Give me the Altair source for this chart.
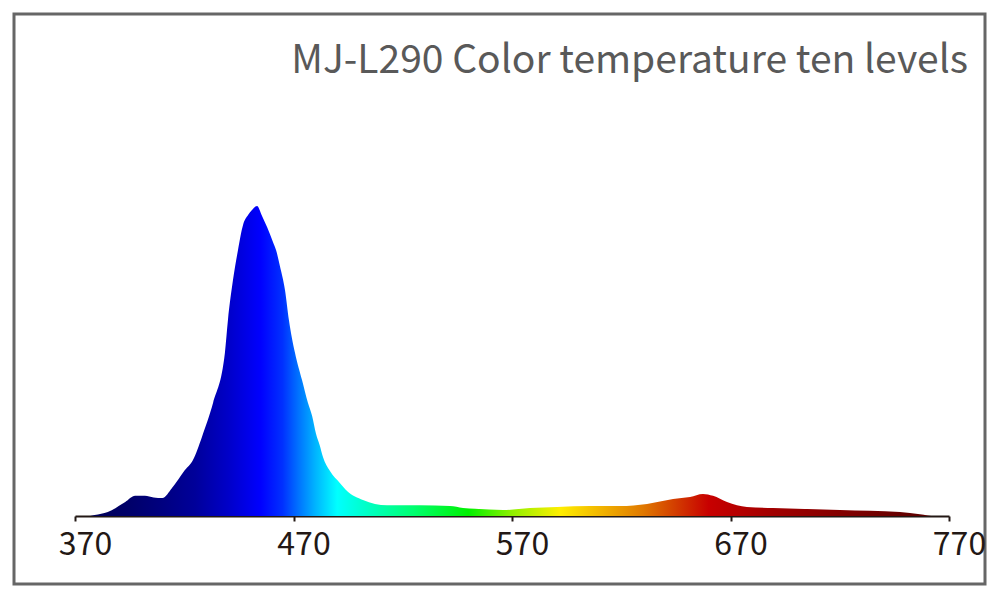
import altair as alt
import pandas as pd

# Spectrum (wavelength nm, relative intensity %)
wavelength = [370, 377, 379, 385, 393, 397.5, 402, 406, 410, 414.4, 420.3, 424, 428.1, 433.2,
              438.6, 440, 442.3, 444.6, 446.9, 449.2, 451, 453.3, 455.6, 457.9, 460.6, 462,
              463.8, 466.1, 467.9, 470.7, 473.9, 476.6, 478.5, 480.3, 482.1, 483.5, 486.7,
              491.3, 494.5, 501.8, 512.8, 527.9, 541.6, 547.6, 553.1, 565.9, 578.2, 590.6,
              605.7, 619.4, 631.8, 643.7, 651.5, 657.4, 662, 668.4, 677.5, 689.5, 720.1,
              747.6, 756.7, 763.6, 770]
intensity = [0, 0, 0.3, 1.3, 4.5, 6.5, 6.5, 6.0, 5.8, 9.0, 14.8, 18.1, 25.5, 36.5,
             52.6, 63.2, 76.1, 85.8, 93.9, 97.1, 98.7, 100, 96.8, 93.2, 88.4, 85.8,
             80.6, 72.9, 63.2, 52.6, 43.9, 36.5, 32.3, 26.5, 22.6, 19.0, 14.5,
             10.6, 8.1, 5.2, 3.5, 3.5, 3.2, 2.6, 2.3, 1.9, 2.6, 2.9,
             3.2, 3.2, 3.9, 5.5, 6.1, 7.1, 6.5, 4.5, 2.9, 2.6, 1.9,
             1.3, 0.6, 0, 0]

# Colour stops of the fill (wavelength nm, colour)
stop_nm = [370, 395, 410, 425, 440, 455, 465, 472, 480, 490, 505, 525, 550, 570, 592,
           612, 630, 648, 660, 690, 730, 770]
stop_color = ["#000050", "#00006a", "#000080", "#00009a", "#0000c8", "#0000ff", "#0030ff",
              "#0070ff", "#00b4ff", "#00ffff", "#00ffc0", "#00ff70", "#00f000", "#90f000",
              "#ffee00", "#f0b000", "#e07800", "#d03000", "#c80000", "#a00000", "#7a0000",
              "#500000"]

tick_values = [370, 470, 570, 670, 770]
title_text = "MJ-L290 Color temperature ten levels"

X_MIN, X_MAX = 370, 770
FONT = "Noto Sans CJK SC"

df = pd.DataFrame({"nm": wavelength, "val": intensity})

stops = [alt.GradientStop(offset=(w - X_MIN) / (X_MAX - X_MIN), color=c)
         for w, c in zip(stop_nm, stop_color)]

area = alt.Chart(df).mark_area(
    interpolate="monotone",
    color=alt.Gradient(gradient="linear", stops=stops, x1=0, x2=1, y1=0, y2=0),
).encode(
    x=alt.X("nm:Q",
            scale=alt.Scale(domain=[X_MIN, X_MAX], range=[61, 935], nice=False, zero=False),
            axis=alt.Axis(values=tick_values, title=None, grid=False, offset=-68,
                          tickSize=5, tickWidth=2, domainWidth=2,
                          domainColor="#231815", tickColor="#231815",
                          labelColor="#231815", labelFont=FONT, labelFontSize=32,
                          labelPadding=8, labelOffset=10, labelFlush=False,
                          format="d")),
    y=alt.Y("val:Q", scale=alt.Scale(domain=[0, 100], range=[502, 192]), axis=None),
)

title = alt.Chart(pd.DataFrame({"t": [title_text]})).mark_text(
    align="right", baseline="alphabetic", font=FONT, fontSize=39, color="#595959"
).encode(text="t:N", x=alt.value(954), y=alt.value(59))

chart = alt.layer(area, title).properties(
    width=971, height=570,
    autosize=alt.AutoSizeParams(type="none"),
    padding={"left": 6, "top": 6, "right": 4, "bottom": 4},
).configure(
    background="white",
    view=alt.ViewConfig(stroke="#666666", strokeWidth=3),
)

chart.save("out.html", embed_options={"renderer": "svg", "actions": False})
